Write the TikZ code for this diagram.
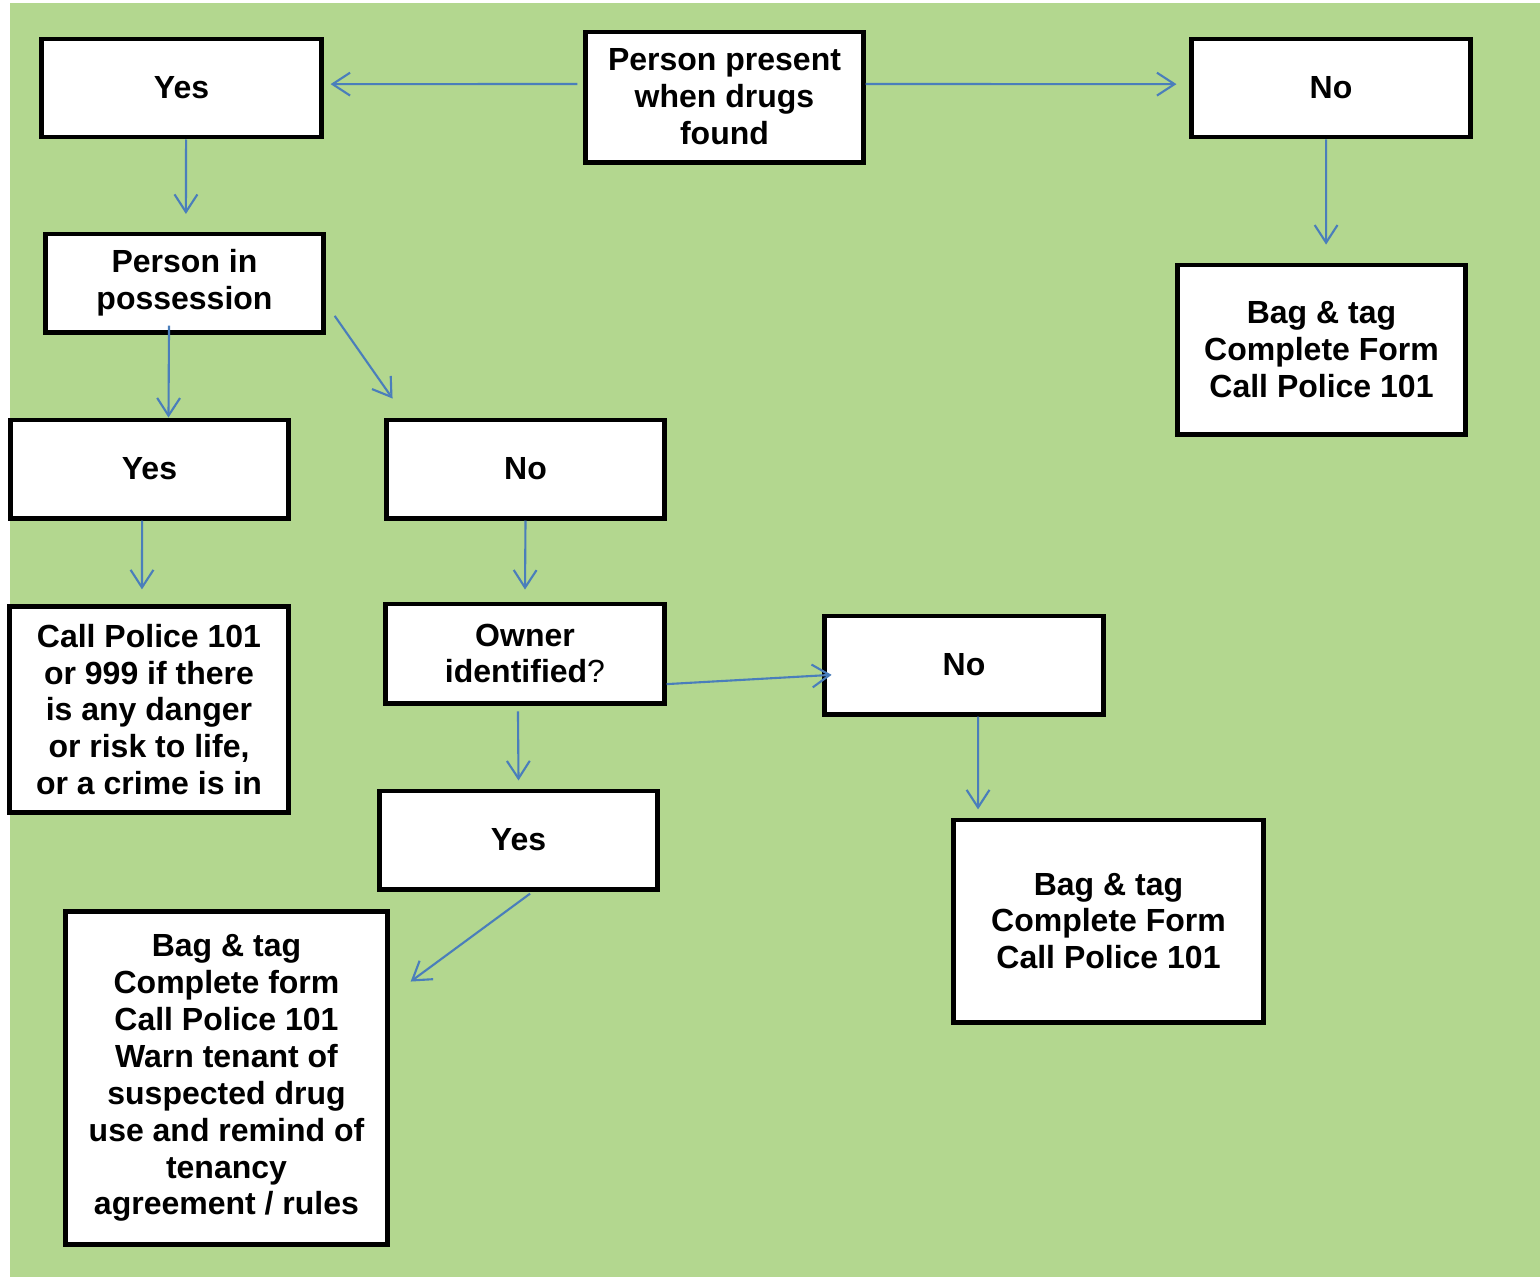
\documentclass[tikz,border=0pt]{standalone}
\usepackage{fontspec}
\setmainfont{Liberation Sans}
\usepackage{tikz}
\usetikzlibrary{arrows.meta}
\definecolor{bggreen}{RGB}{179,215,143}
\definecolor{arrblue}{RGB}{74,126,187}

\begin{document}
\begin{tikzpicture}[x=0.01cm, y=-0.01cm,
  box/.style={draw, line width=1.4pt, fill=white, align=center, inner sep=0pt,
    font=\fontsize{9.1}{10.5}\selectfont\bfseries},
  arr/.style={draw=arrblue, line width=0.6pt, -{Straight Barb[length=5pt,width=6.5pt]}}]
  \useasboundingbox (0,0) rectangle (1540,1278);
  \fill[bggreen] (10,3) rectangle (1540,1277);

  \node[box, minimum width=2.77cm, minimum height=1.30cm] (found) at (724.5,97) {Person present\\when drugs\\found};
  \node[box, minimum width=2.79cm, minimum height=0.98cm] (yesA) at (181.5,88) {Yes};
  \node[box, minimum width=2.78cm, minimum height=0.98cm] (noA) at (1331,88) {No};
  \node[box, minimum width=2.77cm, minimum height=0.98cm] (poss) at (184.5,283) {Person in\\possession};
  \node[box, minimum width=2.87cm, minimum height=1.69cm] (bagA) at (1321.5,349.5) {Bag \& tag\\Complete Form\\Call Police 101};
  \node[box, minimum width=2.77cm, minimum height=0.98cm] (yesB) at (149.5,469) {Yes};
  \node[box, minimum width=2.77cm, minimum height=0.98cm] (noB) at (525.5,469) {No};
  \node[box, minimum width=2.78cm, minimum height=2.05cm] (call) at (149,709.5) {Call Police 101\\or 999 if there\\is any danger\\or risk to life,\\or a crime is in};
  \node[box, minimum width=2.78cm, minimum height=0.99cm] (owner) at (525,653.5) {Owner\\identified{\mdseries ?}};
  \node[box, minimum width=2.78cm, minimum height=0.98cm] (noC) at (964,665) {No};
  \node[box, minimum width=2.77cm, minimum height=0.98cm] (yesC) at (518.5,840) {Yes};
  \node[box, minimum width=3.09cm, minimum height=2.02cm] (bagC) at (1108.5,921) {Bag \& tag\\Complete Form\\Call Police 101};
  \node[box, minimum width=3.21cm, minimum height=3.32cm] (bagB) at (226.5,1078) {Bag \& tag\\Complete form\\Call Police 101\\Warn tenant of\\suspected drug\\use and remind of\\tenancy\\agreement / rules};

  \draw[arr] ([xshift=-1.7pt,yshift=3.7pt]found.west) -- ([xshift=2pt,yshift=1.1pt]yesA.east);
  \draw[arr] ([yshift=3.7pt]found.east) -- ([xshift=-3.7pt,yshift=1.1pt]noA.west);
  \draw[arr] ([xshift=1.3pt]yesA.south) -- ([xshift=0.4pt,yshift=5pt]poss.north);
  \draw[arr] ([xshift=-1.4pt]noA.south) -- ([xshift=1.3pt,yshift=5.1pt]bagA.north);
  \draw[arr] ([xshift=-4.4pt,yshift=2.5pt]poss.south) -- ([xshift=5.4pt]yesB.north);
  \draw[arr] ([xshift=2.6pt,yshift=5.3pt]poss.south east) -- ([xshift=2.3pt,yshift=5.4pt]noB.north west);
  \draw[arr] ([xshift=-2.1pt]yesB.south) -- ([xshift=-2pt,yshift=4.3pt]call.north);
  \draw[arr] (noB.south) -- ([yshift=3.4pt]owner.north);
  \draw[arr] ([yshift=-8.7pt]owner.east) -- ([xshift=2.6pt,yshift=-2.8pt]noC.west);
  \draw[arr] ([xshift=-2pt,yshift=-1.7pt]owner.south) -- ([yshift=2.3pt]yesC.north);
  \draw[arr] ([xshift=4pt]noC.south) -- ([xshift=-37.1pt,yshift=2.3pt]bagC.north);
  \draw[arr] ([xshift=3.3pt,yshift=-0.6pt]yesC.south) -- ([xshift=6pt,yshift=-20.5pt]bagB.north east);
\end{tikzpicture}
\end{document}
